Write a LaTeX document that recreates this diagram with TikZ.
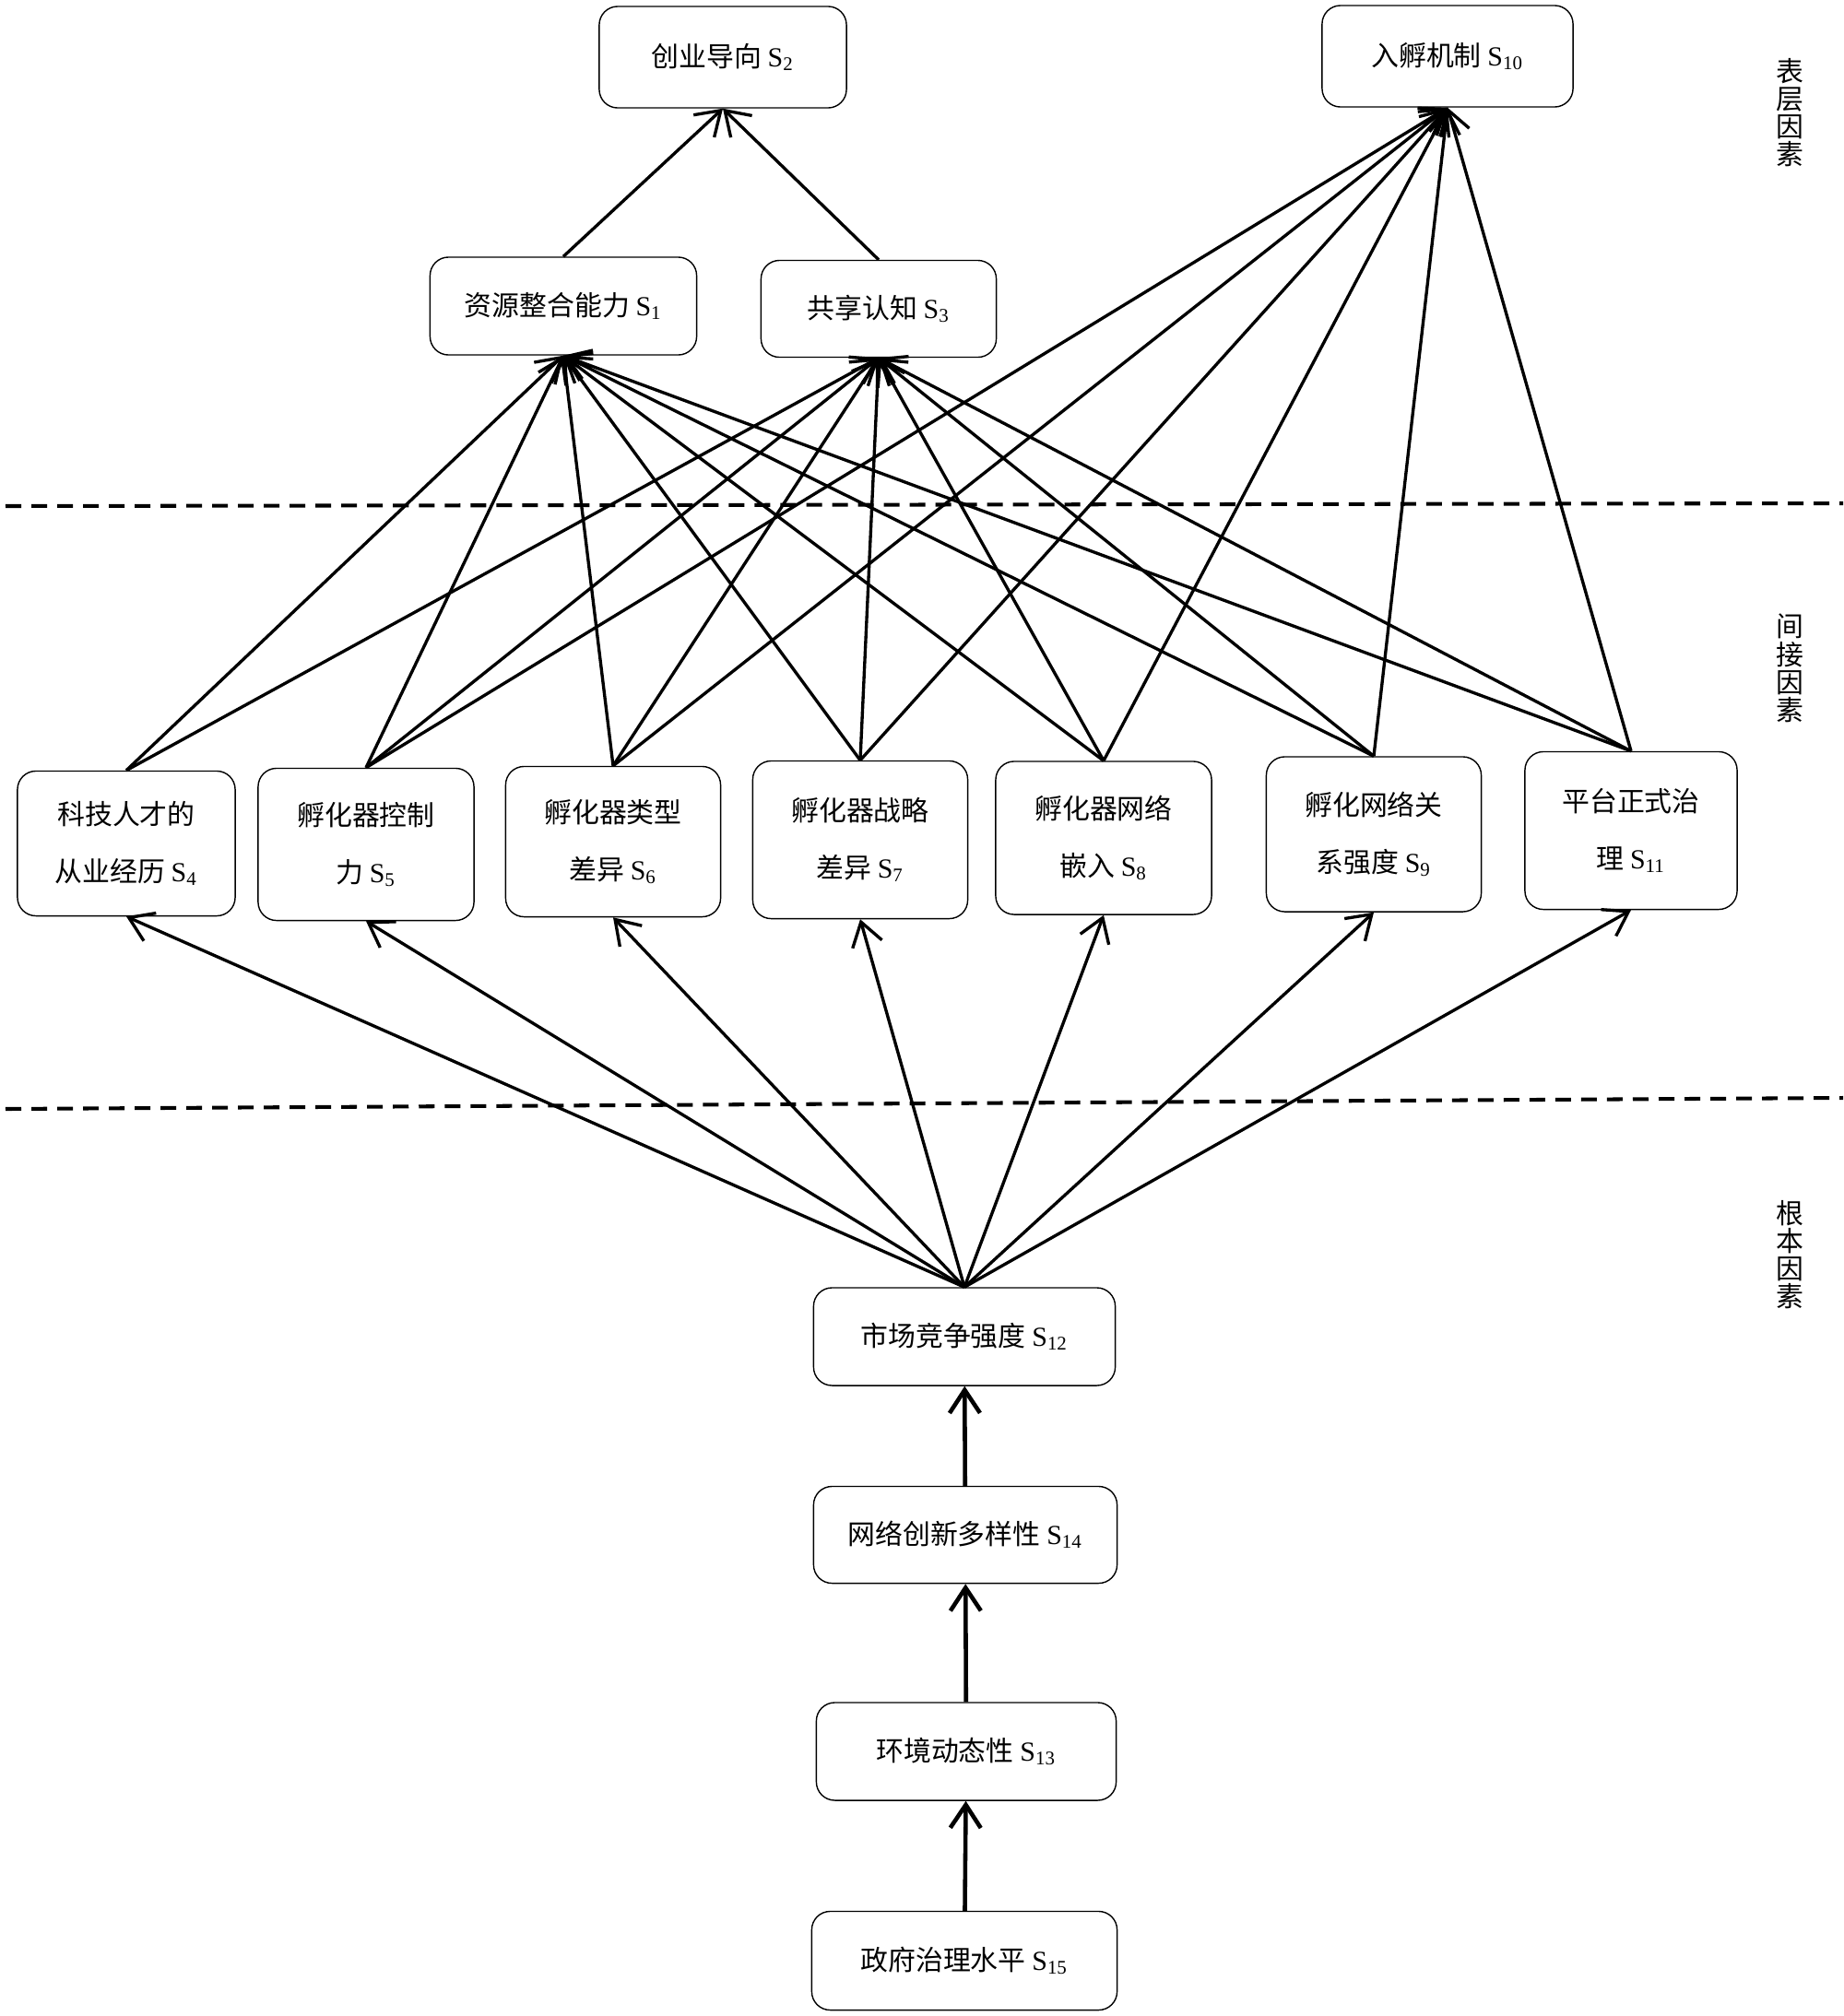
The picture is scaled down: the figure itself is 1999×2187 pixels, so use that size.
\documentclass[tikz,border=0pt]{standalone}
\usepackage{fontspec}
\setmainfont{Liberation Serif}
\newfontfamily\cjk{Noto Sans CJK SC}
\usetikzlibrary{arrows.meta}
\newcommand{\snum}[1]{{\rmfamily S\textsubscript{#1}}}

\begin{document}
\begin{tikzpicture}[x=0.01cm, y=-0.01cm,
    factor/.style = {draw, rounded corners=0.2cm, line width=0.4pt, inner sep=0pt,
        align=center, font=\cjk\fontsize{8.5}{17.5}\selectfont},
    layer/.style = {align=center, font=\cjk\fontsize{8.5}{8.6}\selectfont},
    link/.style = {-{Straight Barb[length=0.25cm,width=0.33cm]}, line width=0.95pt},
    chain/.style = {link, line width=1.3pt},
    divider/.style = {line width=1.15pt, dash pattern=on 0.17cm off 0.11cm}]
    \useasboundingbox (0,0) rectangle (1999,2187);

    % surface factors
    \node[factor, minimum width=2.68cm, minimum height=1.10cm] (s2) at (784,62) {创业导向 \snum{2}};
    \node[factor, minimum width=2.72cm, minimum height=1.10cm] (s10) at (1570,61) {入孵机制 \snum{10}};
    \node[factor, minimum width=2.89cm, minimum height=1.06cm] (s1) at (611,332) {资源整合能力 \snum{1}};
    \node[factor, minimum width=2.55cm, minimum height=1.05cm] (s3) at (953,335) {共享认知 \snum{3}};

    % indirect factors
    \node[factor, minimum width=2.36cm, minimum height=1.57cm] (s4) at (137,915) {科技人才的\\从业经历 \snum{4}};
    \node[factor, minimum width=2.34cm, minimum height=1.65cm] (s5) at (397,916) {孵化器控制\\力 \snum{5}};
    \node[factor, minimum width=2.33cm, minimum height=1.63cm] (s6) at (665,913) {孵化器类型\\差异 \snum{6}};
    \node[factor, minimum width=2.33cm, minimum height=1.71cm] (s7) at (933,911) {孵化器战略\\差异 \snum{7}};
    \node[factor, minimum width=2.34cm, minimum height=1.66cm] (s8) at (1197,909) {孵化器网络\\嵌入 \snum{8}};
    \node[factor, minimum width=2.33cm, minimum height=1.68cm] (s9) at (1490,905) {孵化网络关\\系强度 \snum{9}};
    \node[factor, minimum width=2.30cm, minimum height=1.71cm] (s11) at (1769,901) {平台正式治\\理 \snum{11}};

    % root factors
    \node[factor, minimum width=3.27cm, minimum height=1.06cm] (s12) at (1046,1450) {市场竞争强度 \snum{12}};
    \node[factor, minimum width=3.29cm, minimum height=1.05cm] (s14) at (1047,1665) {网络创新多样性 \snum{14}};
    \node[factor, minimum width=3.25cm, minimum height=1.06cm] (s13) at (1048,1900) {环境动态性 \snum{13}};
    \node[factor, minimum width=3.31cm, minimum height=1.07cm] (s15) at (1046,2127) {政府治理水平 \snum{15}};

    % layer labels
    \node[layer] (top) at (1941,122) {表\\层\\因\\素};
    \node[layer] (mid) at (1941,725) {间\\接\\因\\素};
    \node[layer] (low) at (1941,1361) {根\\本\\因\\素};

    \draw[divider] (6,549) -- (1999,546);
    \draw[divider] (6,1203) -- (1999,1191);

    \draw[link] (s1.north) -- (s2.south);
    \draw[link] (s3.north) -- (s2.south);
    \foreach \s in {4,5,6,7,8,9,11} {
        \draw[link] (s\s.north) -- (s1.south);
        \draw[link] (s\s.north) -- (s3.south);
        \draw[link] (s12.north) -- (s\s.south);
    }
    \foreach \s in {5,6,7,8,9,11}
        \draw[link] (s\s.north) -- (s10.south);

    \draw[chain] (s14) -- (s12);
    \draw[chain] (s13) -- (s14);
    \draw[chain] (s15) -- (s13);
\end{tikzpicture}
\end{document}
